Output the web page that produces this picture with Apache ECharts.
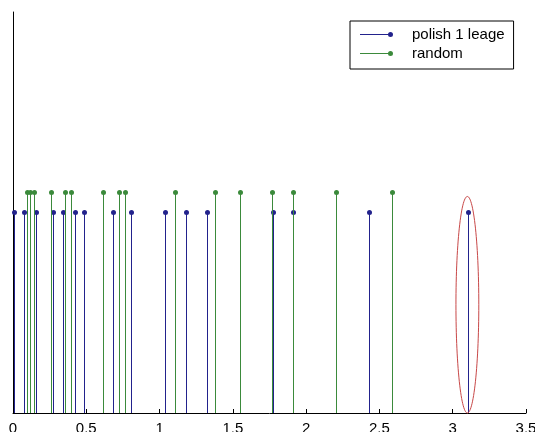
<!DOCTYPE html>
<html>
<head>
<meta charset="utf-8">
<script src="https://cdn.jsdelivr.net/npm/echarts@6/dist/echarts.min.js"></script>
<style>html,body{margin:0;padding:0;background:#fff}#c{width:535px;height:432px}</style>
</head>
<body>
<div id="c"></div>
<script>
const xTicks = [0, 0.5, 1, 1.5, 2, 2.5, 3, 3.5];
const blueName = 'polish 1 leage';
const blueX = [0.004, 0.072, 0.157, 0.270, 0.341, 0.425, 0.482, 0.682, 0.802, 1.034, 1.180, 1.325, 1.774, 1.910, 2.426, 3.101];
const blueY = [1, 1, 1, 1, 1, 1, 1, 1, 1, 1, 1, 1, 1, 1, 1, 1];
const greenName = 'random';
const greenX = [0.095, 0.118, 0.141, 0.261, 0.357, 0.398, 0.614, 0.720, 0.761, 1.102, 1.380, 1.546, 1.769, 1.910, 2.203, 2.587];
const greenY = [1.1, 1.1, 1.1, 1.1, 1.1, 1.1, 1.1, 1.1, 1.1, 1.1, 1.1, 1.1, 1.1, 1.1, 1.1, 1.1];
// highlight ellipse: center x, center y, radius x, radius y
const ellipse = [[3.1, 0.54, 0.078, 0.54]];

const BLUE = '#22228c';
const GREEN = '#3b8a3b';
const RED = '#c84848';

function stem(params, api) {
  const color = api.visual('color');
  const base = api.coord([api.value(0), 0]);
  const top = api.coord([api.value(0), api.value(1)]);
  const sx = Math.round(base[0]) + 0.5;
  return {
    type: 'group',
    children: [
      {type: 'line', shape: {x1: sx, y1: base[1], x2: sx, y2: top[1]}, style: {stroke: color, lineWidth: 1}},
      {type: 'circle', shape: {cx: sx, cy: top[1], r: 2.5}, style: {fill: color}}
    ]
  };
}
function ell(params, api) {
  const c = api.coord([api.value(0), api.value(1)]);
  const s = api.size([api.value(2), api.value(3)]);
  const pts = [];
  for (let i = 0; i < 120; i++) {
    const t = i / 120 * Math.PI * 2;
    pts.push([c[0] + s[0] * Math.cos(t), c[1] + s[1] * Math.sin(t)]);
  }
  return {type: 'polygon', shape: {points: pts}, style: {fill: 'none', stroke: RED, lineWidth: 1}};
}
const iconPath = 'path://M0,2.1h30v0.8h-30z M30.5,2.5m-2.5,0a2.5,2.5 0 1,1 5,0a2.5,2.5 0 1,1 -5,0z';

const chart = echarts.init(document.getElementById('c'), null, {renderer: 'canvas'});
chart.setOption({
  animation: false,
  backgroundColor: '#fff',
  textStyle: {fontFamily: 'Liberation Sans, Arial, sans-serif'},
  grid: {left: 13, right: 9, top: 12, bottom: 19, containLabel: false, outerBoundsMode: 'none'},
  legend: {
    orient: 'vertical',
    left: 350, top: 21,
    itemWidth: 35, itemHeight: 5,
    itemGap: 0,
    padding: [4, 9, 6, 10],
    borderColor: '#000', borderWidth: 1,
    backgroundColor: '#fff',
    textStyle: {color: '#000', fontSize: 15, padding: [0, 0, 0, 13], lineHeight: 19},
    data: [
      {name: blueName, icon: iconPath},
      {name: greenName, icon: iconPath}
    ]
  },
  xAxis: {
    type: 'value', min: 0, max: 3.5, interval: 0.5,
    axisLine: {show: true, onZero: false, lineStyle: {color: '#000', width: 1}},
    axisTick: {show: true, inside: true, length: 4, lineStyle: {color: '#000'}},
    axisLabel: {color: '#000', fontSize: 15, margin: 8, formatter: v => String(v)},
    splitLine: {show: false}
  },
  yAxis: {
    type: 'value', min: 0, max: 2,
    axisLine: {show: true, lineStyle: {color: '#000', width: 1}},
    axisTick: {show: false},
    axisLabel: {show: false},
    splitLine: {show: false}
  },
  series: [
    {name: blueName, type: 'custom', renderItem: stem, itemStyle: {color: BLUE},
     data: blueX.map((x, i) => [x, blueY[i]]), clip: false, z: 2},
    {name: greenName, type: 'custom', renderItem: stem, itemStyle: {color: GREEN},
     data: greenX.map((x, i) => [x, greenY[i]]), clip: false, z: 3},
    {name: 'ellipse', type: 'custom', renderItem: ell, itemStyle: {color: RED},
     data: ellipse, clip: false, z: 4}
  ]
});
</script>
</body>
</html>
